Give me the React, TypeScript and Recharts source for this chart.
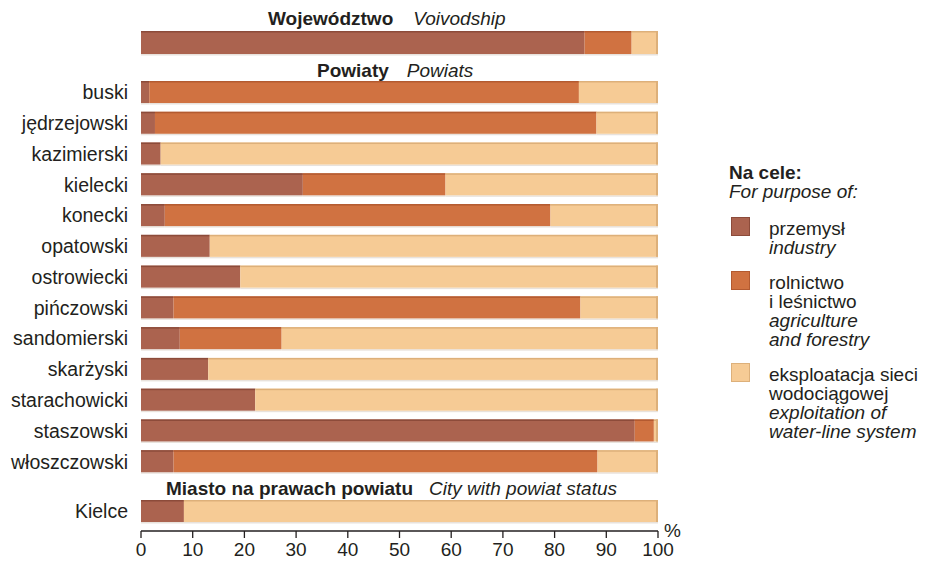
import React from 'react';
import { BarChart, Bar, XAxis, YAxis } from 'recharts';

// Województwo
const voivodshipNames = ['Województwo'];
const voivodshipIndustry = [85.8];
const voivodshipAgriculture = [9.1];
const voivodshipWater = [5.1];

// Powiaty
const powiatNames = [
  'buski', 'jędrzejowski', 'kazimierski', 'kielecki', 'konecki', 'opatowski', 'ostrowiecki',
  'pińczowski', 'sandomierski', 'skarżyski', 'starachowicki', 'staszowski', 'włoszczowski',
];
const powiatIndustry = [1.6, 2.7, 3.8, 31.3, 4.6, 13.3, 19.2, 6.3, 7.5, 13.0, 22.1, 95.5, 6.3];
const powiatAgriculture = [83.1, 85.4, 0, 27.6, 74.6, 0, 0, 78.7, 19.7, 0, 0, 3.7, 82.0];
const powiatWater = [15.3, 11.9, 96.2, 41.1, 20.8, 86.7, 80.8, 15.0, 72.8, 87.0, 77.9, 0.8, 11.7];

// Miasto na prawach powiatu
const cityNames = ['Kielce'];
const cityIndustry = [8.3];
const cityAgriculture = [0];
const cityWater = [91.7];

const xTicks = [0, 10, 20, 30, 40, 50, 60, 70, 80, 90, 100];

const series = [
  { key: 'industry', color: '#AB634F', edge: '#8C4B3A', pl: ['przemysł'], en: ['industry'] },
  { key: 'agriculture', color: '#D07241', edge: '#B35A30', pl: ['rolnictwo', 'i leśnictwo'], en: ['agriculture', 'and forestry'] },
  { key: 'water', color: '#F6CB95', edge: '#DDB07A', pl: ['eksploatacja sieci', 'wodociągowej'], en: ['exploitation of', 'water-line system'] },
];

const makeRows = (names: string[], ind: number[], agr: number[], wat: number[]) =>
  names.map((name, i) => ({ name, industry: ind[i], agriculture: agr[i], water: wat[i] }));

const voivodshipRows = makeRows(voivodshipNames, voivodshipIndustry, voivodshipAgriculture, voivodshipWater);
const powiatRows = makeRows(powiatNames, powiatIndustry, powiatAgriculture, powiatWater);
const cityRows = makeRows(cityNames, cityIndustry, cityAgriculture, cityWater);

const FONT = '"Liberation Sans", Arial, sans-serif';
const TEXT = '#231f20';

// bar segment with darker top edge (and right edge on the last one)
const Segment = (props: any) => {
  const { x, y, width, height, fill, edge, last } = props;
  if (!width || width <= 0) return null;
  return (
    <g>
      <rect x={x} y={y + height} width={width} height={1.5} fill="#e8e2dc" />
      <rect x={x} y={y} width={width} height={height} fill={fill} />
      <rect x={x} y={y} width={width} height={1.5} fill={edge} />
      {last && <rect x={x + width - 2} y={y} width={2} height={height} fill={edge} />}
    </g>
  );
};

const StackRows = ({ data, height, barSize, showAxis, showNames }: any) => (
  <BarChart
    layout="vertical"
    width={710}
    height={height}
    data={data}
    margin={{ top: 0, right: 52, bottom: 0, left: 0 }}
    barCategoryGap={0}
  >
    <XAxis
      type="number"
      domain={[0, 100]}
      ticks={xTicks}
      hide={!showAxis}
      height={30}
      tickSize={7}
      tickMargin={5}
      axisLine={{ stroke: TEXT, strokeWidth: 1.3 }}
      tickLine={{ stroke: TEXT, strokeWidth: 1.3 }}
      tick={{ fill: TEXT, fontSize: 19, fontFamily: FONT }}
      interval={0}
    />
    <YAxis
      type="category"
      dataKey="name"
      width={141}
      axisLine={false}
      tickLine={false}
      tickMargin={7}
      tick={showNames ? { fill: TEXT, fontSize: 19.5, fontFamily: FONT } : false}
      interval={0}
    />
    {series.map((s, i) => (
      <Bar
        key={s.key}
        dataKey={s.key}
        stackId="a"
        fill={s.color}
        barSize={barSize}
        isAnimationActive={false}
        shape={(p: any) => <Segment {...p} edge={s.edge} last={i === series.length - 1} />}
      />
    ))}
  </BarChart>
);

const Header = ({ left, top, bold, italic, gap }: any) => (
  <div style={{ position: 'absolute', left, top, fontSize: 19, lineHeight: '22px', color: TEXT, whiteSpace: 'nowrap' }}>
    <b>{bold}</b>
    <i style={{ marginLeft: gap }}>{italic}</i>
  </div>
);

export default function App() {
  return (
    <div style={{ position: 'absolute', left: 0, top: 0, width: 929, height: 561, background: '#fff', fontFamily: FONT, overflow: 'hidden' }}>
      <Header left={268} top={8} bold="Województwo" italic="Voivodship" gap={20} />
      <div style={{ position: 'absolute', left: 0, top: 27 }}>
        <StackRows data={voivodshipRows} height={30} barSize={23} showAxis={false} showNames={false} />
      </div>

      <Header left={317} top={60} bold="Powiaty" italic="Powiats" gap={18} />
      <div style={{ position: 'absolute', left: 0, top: 77 }}>
        <StackRows data={powiatRows} height={400} barSize={22} showAxis={false} showNames={true} />
      </div>

      <Header left={166} top={478} bold="Miasto na prawach powiatu" italic="City with powiat status" gap={16} />
      <div style={{ position: 'absolute', left: 0, top: 491 }}>
        <StackRows data={cityRows} height={70} barSize={22} showAxis={true} showNames={true} />
      </div>

      <div style={{ position: 'absolute', left: 664, top: 520, fontSize: 19, color: TEXT }}>%</div>

      <div style={{ position: 'absolute', left: 729, top: 163, color: TEXT, fontSize: 19, lineHeight: '19px' }}>
        <div style={{ fontWeight: 'bold' }}>Na cele:</div>
        <div style={{ fontStyle: 'italic' }}>For purpose of:</div>
        <div style={{ display: 'flex', flexDirection: 'column', gap: 16, marginTop: 18 }}>
          {series.map((s) => (
            <div key={s.key} style={{ position: 'relative', paddingLeft: 40 }}>
              <div style={{ position: 'absolute', left: 2, top: -2, width: 19, height: 19, background: s.color, boxShadow: `inset 0 0 0 1px ${s.edge}` }} />
              {s.pl.map((t) => <div key={t}>{t}</div>)}
              {s.en.map((t) => <div key={t} style={{ fontStyle: 'italic' }}>{t}</div>)}
            </div>
          ))}
        </div>
      </div>
    </div>
  );
}
